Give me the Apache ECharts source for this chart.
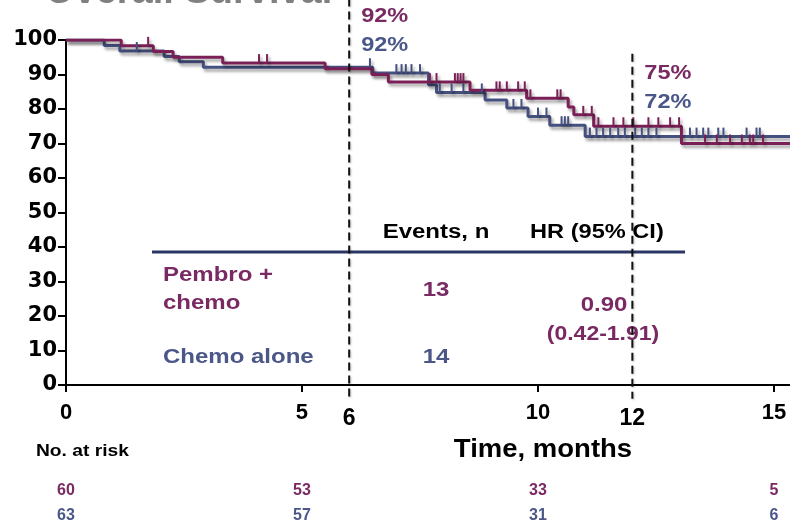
<!DOCTYPE html>
<html>
<head>
<meta charset="utf-8">
<title>Overall Survival</title>
<script src="https://cdn.jsdelivr.net/npm/echarts@6/dist/echarts.min.js"></script>
<style>
  html, body { margin: 0; padding: 0; background: #ffffff; }
  #chart { width: 790px; height: 522px; }
</style>
</head>
<body>
<div id="chart"></div>
<script>
// Kaplan-Meier step data: time in months, survival in percent
const pembroTime = [0, 1.17, 1.85, 2.27, 3.32, 5.49, 6.48, 6.83, 8.56, 9.76, 10.64, 10.76, 11.18, 13.04, 15.34];
const pembroSurv = [100, 98.3, 96.7, 95.0, 93.3, 91.7, 90.0, 87.8, 85.4, 83.1, 80.6, 78.3, 75.0, 70.0, 70.0];
const chemoTime = [0, 0.81, 1.14, 2.08, 2.40, 2.91, 6.50, 7.68, 7.85, 8.88, 9.34, 9.79, 10.25, 11.00, 15.34];
const chemoSurv = [100, 98.4, 96.8, 95.2, 93.7, 92.1, 90.4, 87.0, 84.8, 82.6, 80.3, 77.8, 75.3, 72.0, 72.0];

// Censoring times (months)
const pembroCensor = [1.74, 4.09, 4.26, 7.71, 7.85, 8.24, 8.30, 8.36, 8.42, 9.12, 9.19, 9.34, 9.58, 9.72,
  9.84, 10.41, 10.48, 10.96, 11.14, 11.28, 11.60, 11.81, 12.02, 12.34, 12.55, 12.80, 12.99,
  13.54, 13.79, 14.07, 14.32, 14.49, 14.56, 14.77];
const chemoCensor = [1.50, 6.44, 7.00, 7.11, 7.20, 7.32, 7.50, 7.92, 8.17, 8.42, 8.81, 9.48, 9.65, 10.00,
  10.18, 10.50, 10.57, 10.64, 11.10, 11.24, 11.38, 11.53, 11.70, 11.84, 12.06, 12.20, 12.34,
  12.51, 13.22, 13.36, 13.50, 13.61, 13.82, 13.93, 14.42, 14.63, 14.70];

// Landmark survival estimates
const landmarkMonths = [6, 12];
const pembroLandmark = [92, 75];
const chemoLandmark = [92, 72];

// Numbers at risk
const riskMonths = [0, 5, 10, 15];
const pembroRisk = [60, 53, 33, 5];
const chemoRisk = [63, 57, 31, 6];

// Axis ticks and labels
const yTicks = [0, 10, 20, 30, 40, 50, 60, 70, 80, 90, 100];
const xTickValues = [0, 5, 10, 15];
const xLabelValues = [0, 5, 6, 10, 12, 15];

// Summary table
const armNames = ['Pembro +\nchemo', 'Chemo alone'];
const armEvents = [13, 14];
const hazardRatio = '0.90';
const hazardCI = '(0.42-1.91)';

const FONT = "'Liberation Sans', Arial, Helvetica, sans-serif";
const WIDE_FONT = "'DejaVu Sans', 'Liberation Sans', Arial, sans-serif";
const PEMBRO = '#7b1f57';
const CHEMO = '#44507f';
const PEMBRO_TEXT = '#7a2a62';
const CHEMO_TEXT = '#4a5788';
const X_MAX = 15.34;

function levelAt(times, surv, t) {
  let v = surv[0];
  for (let i = 0; i < times.length; i++) {
    if (times[i] <= t) v = surv[i]; else break;
  }
  return v;
}

const lineShadow = {
  shadowColor: 'rgba(0,0,0,0.35)',
  shadowBlur: 3,
  shadowOffsetX: 2,
  shadowOffsetY: 3
};

function kmSeries(name, times, surv, color) {
  return {
    name: name,
    type: 'line',
    step: 'end',
    symbol: 'none',
    xAxisIndex: 0, yAxisIndex: 0,
    data: times.map((t, i) => [t, surv[i]]),
    lineStyle: Object.assign({ color: color, width: 3 }, lineShadow),
    z: 3,
    animation: false
  };
}

function censorSeries(name, censor, times, surv, color) {
  return {
    name: name + ' censored',
    type: 'custom',
    xAxisIndex: 0, yAxisIndex: 0,
    data: censor.map(t => [t, levelAt(times, surv, t)]),
    renderItem: function (params, api) {
      const p = api.coord([api.value(0), api.value(1)]);
      return {
        type: 'line',
        shape: { x1: p[0], y1: p[1], x2: p[0], y2: p[1] - 9 },
        style: Object.assign({ stroke: color, lineWidth: 2 }, lineShadow)
      };
    },
    z: 4,
    animation: false
  };
}

// Numbers at risk, written under the time axis in the lower grid
function riskSeries(name, counts, row, color) {
  return {
    name: name + ' at risk',
    type: 'custom',
    xAxisIndex: 1, yAxisIndex: 1,
    clip: false,
    silent: true,
    data: riskMonths.map((m, i) => [m, row, counts[i]]),
    renderItem: function (params, api) {
      const p = api.coord([api.value(0), api.value(1)]);
      return {
        type: 'text',
        x: p[0], y: p[1],
        style: {
          text: String(api.value(2)),
          fill: color,
          font: 'bold 16px ' + FONT,
          align: 'center',
          verticalAlign: 'middle'
        }
      };
    },
    animation: false
  };
}

const landmarkTop = [112, 96];
const landmarkBottom = -4;

const chart = echarts.init(document.getElementById('chart'), null, { renderer: 'canvas' });

const xLabelFont = { fontFamily: FONT, fontWeight: 'bold', fontSize: 22, color: '#000' };
const yLabelFont = { fontFamily: WIDE_FONT, fontWeight: 'bold', fontSize: 21, color: '#000' };

chart.setOption({
  animation: false,
  backgroundColor: '#ffffff',
  grid: [
    { left: 66, top: 40, width: 724, height: 345, containLabel: false },
    { left: 66, top: 491, width: 724, height: 25, containLabel: false }
  ],
  xAxis: [
    {
      type: 'value', gridIndex: 0, min: 0, max: X_MAX,
      axisLine: { show: true, lineStyle: { color: '#000', width: 2 } },
      axisTick: { show: true, customValues: xTickValues, length: 7, lineStyle: { color: '#000', width: 2 } },
      axisLabel: {
        customValues: xLabelValues,
        margin: 17,
        formatter: v => (landmarkMonths.indexOf(v) >= 0 ? '{lm|' + v + '}' : '{n|' + v + '}'),
        rich: {
          n: Object.assign({}, xLabelFont),
          lm: Object.assign({}, xLabelFont, { fontSize: 23, padding: [5, 0, 0, 0] })
        }
      },
      splitLine: { show: false }
    },
    { type: 'value', gridIndex: 1, min: 0, max: X_MAX, show: false }
  ],
  yAxis: [
    {
      type: 'value', gridIndex: 0, min: 0, max: 100, interval: 10,
      axisLine: { show: true, lineStyle: { color: '#000', width: 2 } },
      axisTick: { show: true, length: 8, lineStyle: { color: '#000', width: 2 } },
      axisLabel: Object.assign({ margin: 9, formatter: v => (yTicks.indexOf(v) >= 0 ? String(v) : '') }, yLabelFont),
      splitLine: { show: false }
    },
    { type: 'value', gridIndex: 1, min: 0, max: 1, show: false }
  ],
  series: [
    {
      name: 'landmarks',
      type: 'custom',
      xAxisIndex: 0, yAxisIndex: 0,
      clip: false,
      data: landmarkMonths.map((m, i) => [m, landmarkTop[i], landmarkBottom]),
      renderItem: function (params, api) {
        const a = api.coord([api.value(0), api.value(1)]);
        const b = api.coord([api.value(0), api.value(2)]);
        return {
          type: 'line',
          shape: { x1: a[0], y1: a[1], x2: b[0], y2: b[1] },
          style: { stroke: '#111', lineWidth: 2, lineDash: [8, 5], shadowColor: 'rgba(0,0,0,0.25)', shadowBlur: 2, shadowOffsetX: 1, shadowOffsetY: 1 }
        };
      },
      z: 5,
      animation: false
    },
    kmSeries('Chemo alone', chemoTime, chemoSurv, CHEMO),
    censorSeries('Chemo alone', chemoCensor, chemoTime, chemoSurv, CHEMO),
    kmSeries('Pembro + chemo', pembroTime, pembroSurv, PEMBRO),
    censorSeries('Pembro + chemo', pembroCensor, pembroTime, pembroSurv, PEMBRO),
    riskSeries('Pembro + chemo', pembroRisk, 1, PEMBRO_TEXT),
    riskSeries('Chemo alone', chemoRisk, 0, CHEMO_TEXT)
  ]
});

// Annotations: title, landmark percentages, summary table, axis title
function txt(x, y, text, opts) {
  opts = opts || {};
  return {
    type: 'text',
    x: x, y: y,
    scaleX: opts.scaleX || 1.2,
    z: 1,
    style: {
      x: 0, y: 0,
      text: text,
      fill: opts.color || '#000',
      font: (opts.weight || 'bold') + ' ' + (opts.size || 20) + 'px ' + FONT,
      align: opts.align || 'left',
      verticalAlign: 'middle'
    }
  };
}

const xPix = m => chart.convertToPixel({ xAxisIndex: 0 }, m);
const graphics = [];

graphics.push(txt(45, -7, 'Overall Survival', { size: 38, color: '#808080', scaleX: 1.0 }));

landmarkMonths.forEach((m, i) => {
  const x = xPix(m) + 12;
  const yTop = i === 0 ? 16 : 73;
  graphics.push(txt(x, yTop, pembroLandmark[i] + '%', { color: PEMBRO_TEXT, size: 21, scaleX: 1.12 }));
  graphics.push(txt(x, yTop + 29, chemoLandmark[i] + '%', { color: CHEMO_TEXT, size: 21, scaleX: 1.12 }));
});

graphics.push(txt(436, 232, 'Events, n', { align: 'center' }));
graphics.push(txt(530, 232, 'HR (95% CI)', { scaleX: 1.18 }));
graphics.push({
  type: 'line', z: 1,
  shape: { x1: 152, y1: 252, x2: 685, y2: 252 },
  style: { stroke: '#2b3566', lineWidth: 3 }
});
graphics.push(txt(163, 275, armNames[0].split('\n')[0], { color: PEMBRO_TEXT }));
graphics.push(txt(163, 303, armNames[0].split('\n')[1], { color: PEMBRO_TEXT }));
graphics.push(txt(436, 290, String(armEvents[0]), { color: PEMBRO_TEXT, align: 'center' }));
graphics.push(txt(604, 305, hazardRatio, { color: PEMBRO_TEXT, align: 'center' }));
graphics.push(txt(603, 334, hazardCI, { color: PEMBRO_TEXT, align: 'center', scaleX: 1.15 }));
graphics.push(txt(163, 357, armNames[1], { color: CHEMO_TEXT }));
graphics.push(txt(436, 357, String(armEvents[1]), { color: CHEMO_TEXT, align: 'center' }));

graphics.push(txt(543, 450, 'Time, months', { size: 25, align: 'center', scaleX: 1.1 }));
graphics.push(txt(36, 452, 'No. at risk', { size: 16, scaleX: 1.2 }));

chart.setOption({ graphic: graphics });
</script>
</body>
</html>
